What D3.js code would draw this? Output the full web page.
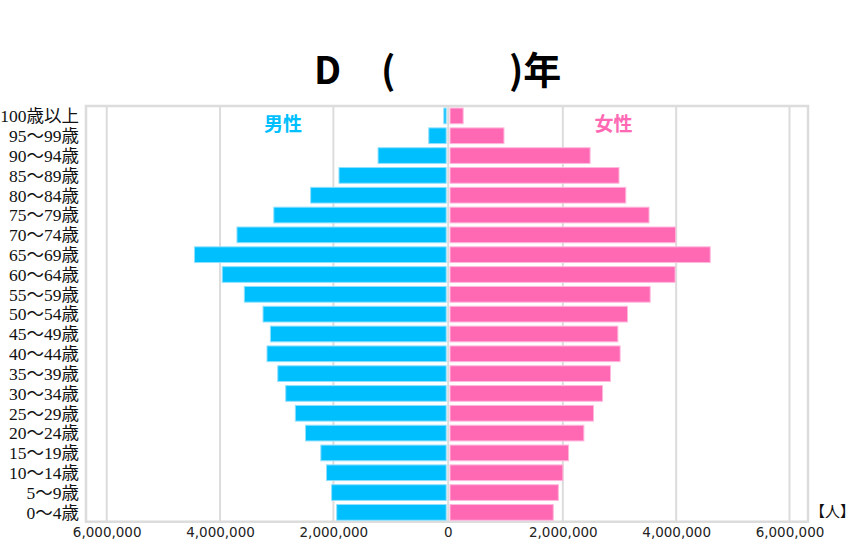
<!DOCTYPE html>
<html><head><meta charset="utf-8">
<script src="https://cdn.jsdelivr.net/npm/d3@7"></script>
<style>
html,body{margin:0;padding:0;background:#fff;}
svg{display:block;}
</style></head>
<body>
<svg id="c" width="863" height="550"></svg>
<script>
const ages = ["100歳以上","95～99歳","90～94歳","85～89歳","80～84歳","75～79歳","70～74歳","65～69歳","60～64歳","55～59歳","50～54歳","45～49歳","40～44歳","35～39歳","30～34歳","25～29歳","20～24歳","15～19歳","10～14歳","5～9歳","0～4歳"];
const male = [60000,325000,1220000,1910000,2410000,3060000,3710000,4460000,3970000,3580000,3250000,3120000,3180000,2990000,2850000,2680000,2500000,2230000,2130000,2040000,1950000];
const female = [250000,970000,2490000,3000000,3120000,3530000,4000000,4610000,3990000,3550000,3150000,2980000,3020000,2850000,2710000,2550000,2380000,2110000,2010000,1930000,1840000];
const sideTicks = [2000000,4000000,6000000];
const seriesNames = ["男性","女性"];
const titleParts = ["D","(",")年"];
const unitLabel = "【人】";

const svg = d3.select("#c");
const plot = {l:86, r:808, t:106, b:521.7};
const xL = d3.scaleLinear().domain([0,6000000]).range([446.7,106.7]);
const xR = d3.scaleLinear().domain([0,6000000]).range([449.5,789.5]);
const xMid = 448.2;
const y = d3.scaleBand().domain(ages).range([106,522.3]).paddingInner(0.157).paddingOuter(0.0785);

const grid = "#dcdcdc";
const g = svg.append("g");
sideTicks.forEach(v=>{
  g.append("line").attr("x1",xL(v)).attr("x2",xL(v)).attr("y1",plot.t).attr("y2",plot.b).attr("stroke",grid).attr("stroke-width",2);
  g.append("line").attr("x1",xR(v)).attr("x2",xR(v)).attr("y1",plot.t).attr("y2",plot.b).attr("stroke",grid).attr("stroke-width",2);
});
g.append("line").attr("x1",xMid).attr("x2",xMid).attr("y1",plot.t).attr("y2",plot.b).attr("stroke",grid).attr("stroke-width",2);
svg.append("rect").attr("x",plot.l).attr("y",plot.t).attr("width",plot.r-plot.l).attr("height",plot.b-plot.t)
  .attr("fill","none").attr("stroke",grid).attr("stroke-width",2.5);

svg.append("g").selectAll("rect").data(ages).join("rect")
  .attr("x",(d,i)=>xL(male[i])+0.5).attr("y",d=>y(d)+0.5)
  .attr("width",(d,i)=>xL(0)-xL(male[i])-1).attr("height",y.bandwidth()-1)
  .attr("fill","#00BFFF").attr("stroke","#8fe0ff").attr("stroke-width",1);
svg.append("g").selectAll("rect").data(ages).join("rect")
  .attr("x",xR(0)+0.5).attr("y",d=>y(d)+0.5)
  .attr("width",(d,i)=>xR(female[i])-xR(0)-1).attr("height",y.bandwidth()-1)
  .attr("fill","#FF69B4").attr("stroke","#ffb8dc").attr("stroke-width",1);

const yAx = svg.append("g").attr("transform","translate(79,0)").call(d3.axisLeft(y).tickSize(0).tickPadding(0));
yAx.select(".domain").remove();
yAx.selectAll("text").attr("font-family","'Liberation Serif','Noto Sans CJK JP',serif").attr("font-size",17.5).attr("fill","#111").attr("dy","0.36em");

const fmt = d3.format(",");
function styleAxis(sel){
  sel.select(".domain").remove();
  sel.selectAll("line").remove();
  sel.selectAll("text").attr("font-family","'DejaVu Sans',Verdana,sans-serif").attr("font-size",13.5).attr("fill","#222").attr("dy","0");
}
svg.append("g").attr("transform","translate(0,537)").call(d3.axisBottom(xL).tickValues(sideTicks).tickFormat(fmt).tickSize(0).tickPadding(0)).call(styleAxis);
svg.append("g").attr("transform","translate(0,537)").call(d3.axisBottom(xR).tickValues(sideTicks).tickFormat(fmt).tickSize(0).tickPadding(0)).call(styleAxis);
svg.append("text").attr("x",xMid).attr("y",537).attr("text-anchor","middle")
  .attr("font-family","'DejaVu Sans',Verdana,sans-serif").attr("font-size",13.5).attr("fill","#222").text(fmt(0));

svg.append("text").attr("x",810).attr("y",517).attr("font-family","'Noto Sans CJK JP',sans-serif").attr("font-size",15)
  .attr("fill","#111").text(unitLabel);

svg.append("text").attr("x",283).attr("y",131).attr("text-anchor","middle").attr("font-family","'Noto Sans CJK JP',sans-serif")
  .attr("font-weight","bold").attr("font-size",19).attr("fill","#00BFFF").text(seriesNames[0]);
svg.append("text").attr("x",613.5).attr("y",131).attr("text-anchor","middle").attr("font-family","'Noto Sans CJK JP',sans-serif")
  .attr("font-weight","bold").attr("font-size",19).attr("fill","#FF69B4").text(seriesNames[1]);

const t = svg.append("text").attr("y",84).attr("font-family","'Noto Sans CJK JP',sans-serif").attr("font-weight","bold").attr("font-size",38).attr("fill","#000");
t.append("tspan").attr("x",314).text(titleParts[0]);
t.append("tspan").attr("x",381).text(titleParts[1]);
t.append("tspan").attr("x",509).text(titleParts[2]);
</script>
</body></html>
